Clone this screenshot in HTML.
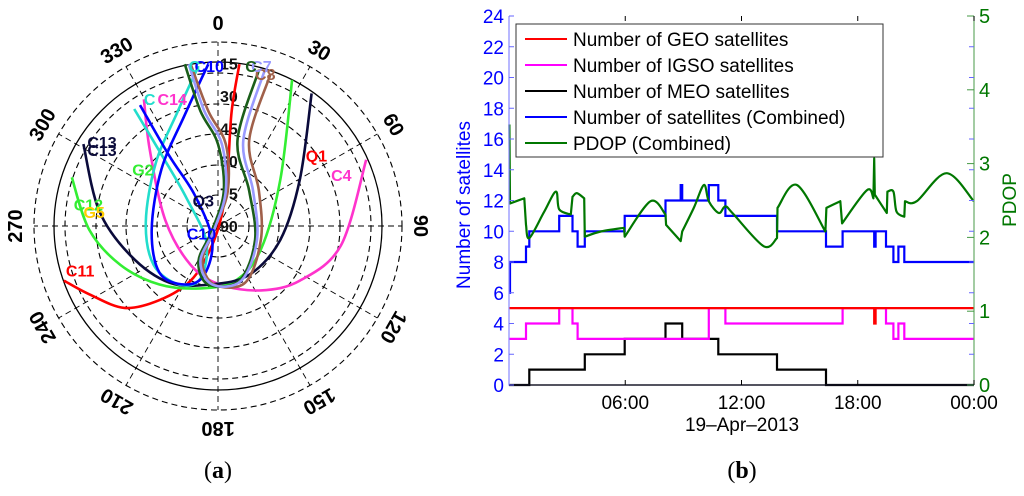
<!DOCTYPE html>
<html><head><meta charset="utf-8"><style>
body{margin:0;background:#fff;}
svg{display:block;font-family:"Liberation Sans",sans-serif;}
</style></head><body>
<svg id="fig" width="1024" height="496" viewBox="0 0 1024 496">
<g id="polar"></g>
<g id="ts"></g>
<text x="218" y="478" text-anchor="middle" font-family="Liberation Serif" font-size="24">(<tspan font-weight="bold">a</tspan>)</text>
<text x="742" y="478" text-anchor="middle" font-family="Liberation Serif" font-size="24">(<tspan font-weight="bold">b</tspan>)</text>
</svg>
<script>
// ---------- Polar skyplot data (sky-plane coords, 100 = horizon) ----------
const trackNames=["C11","C4","C12","C13","C6","C10","C5","C8","C7"];
const trackColors=["#ff0000","#ff33cc","#33ee33","#0a0a3a","#22ddcc","#0000ff","#1a5e1a","#a0604a","#9999ff"];
const trackC11=[[-79,-28],[-66,-35],[-48,-42],[-30,-38],[-14,-28],[-4,-12],[2,6],[5,29],[7,59],[11,83]];
const trackC4=[[-38,65],[-35,39],[-27,3],[-14,-20],[1,-30],[22,-33],[42,-28],[63,-10],[76,34]];
const trackC12=[[-75,25],[-66,-2],[-50,-20],[-30,-30],[-9,-32],[9,-28],[22,-12],[32,24],[38,75]];
const trackC13=[[-69,42],[-61,8],[-45,-15],[-25,-29],[-4,-30],[16,-25],[32,-7],[42,24],[48,68]];
const trackC6=[[-10,82],[-21,58],[-32,32],[-37,2],[-33,-20],[-20,-30],[-9,-27],[-6,-8],[-16,14],[-28,35],[-43,60]];
const trackC10=[[-5,83],[-17,57],[-29,29],[-34,-2],[-30,-24],[-17,-30],[-7,-25],[-3,-7],[-12,16],[-25,36],[-40,62]];
const trackC5=[[-17,83],[-9,59],[0,42],[3,18],[-3,-2],[-10,-18],[-5,-30],[11,-28],[19,-7],[16,18],[10,44],[21,80]];
const trackC8=[[-14,83],[-5,59],[4,42],[5,18],[-2,-2],[-8,-18],[-2,-30],[14,-29],[22,-7],[21,18],[16,44],[27,78]];
const trackC7=[[-15,83],[-7,59],[2,42],[4,18],[-2,-2],[-9,-18],[-3,-30],[12,-28],[20,-7],[18,18],[13,44],[24,80]];
const tracks=[trackC11,trackC4,trackC12,trackC13,trackC6,trackC10,trackC5,trackC8,trackC7];
const azLabels=["0","30","60","90","120","150","180","210","240","270","300","330"];
const elLabels=["15","30","45","60","75","90"];
const satLabels=[["C11",-78,-26,"#ff0000"],["C4",58,23,"#ff33cc"],["Q1",45,33,"#ff0000"],["G2",-44,26,"#33ee33"],["C12",-74,8,"#33ee33"],["G5",-69,4,"#ffcc00"],["C13",-67,40,"#0a0a3a"],["C13",-67,36,"#0a0a3a"],["Q3",-13,10,"#0a0a3a"],["C10",-16,-7,"#0000ff"],["C10",-12,79,"#0000ff"],["C",-15,79,"#22ddcc"],["C14",-31,62,"#ff33cc"],["C",-38,62,"#22ddcc"],["C8",19,75,"#a0604a"],["C7",17,79,"#9999ff"],["C",14,79,"#1a5e1a"]];

// ---------- Time-series data ----------
const geoT=[0,18.85,18.92];
const geoV=[5,4,5];
const igsoT=[0,0.88,2.59,3.28,3.54,10.31,11.17,17.22,19.46,19.84,20.1,20.4];
const igsoV=[3,4,5,4,3,5,4,5,4,3,4,3];
const meoT=[0,1.05,3.91,5.97,8.08,8.94,10.8,13.83,16.36];
const meoV=[0,1,2,3,4,3,2,1,0];
const combT=[0,0.05,0.88,1.05,2.59,3.28,3.54,3.91,5.97,8.08,8.86,8.94,10.31,10.8,11.17,13.83,16.36,17.22,18.85,18.92,19.46,19.84,20.1,20.4];
const combV=[6,8,9,10,11,10,9,10,11,12,13,12,13,12,11,10,9,10,9,10,9,8,9,8];
const pdopT=[0.02,0.05,0.79,0.88,1.05,1.82,2.42,2.59,3.19,3.28,3.5,3.88,3.91,4.74,5.94,5.97,7.31,8.08,8.11,8.86,8.94,9.54,10.06,10.31,10.83,11.17,11.6,13.15,13.83,13.86,14.86,16.33,16.38,17.1,17.19,18.47,18.81,18.85,18.88,19.5,19.53,19.84,20.0,20.4,20.44,21.04,22.58,23.99];
const pdopV=[3.53,2.46,2.53,2.17,1.99,2.35,2.62,2.38,2.31,2.55,2.6,2.53,2.01,2.08,2.13,2.01,2.49,2.31,2.17,1.95,2.08,2.4,2.71,2.49,2.33,2.42,2.31,1.88,1.99,2.4,2.71,2.08,2.4,2.49,2.19,2.64,2.53,3.07,2.58,2.33,2.62,2.62,2.35,2.28,2.49,2.49,2.87,2.49];
const leftTicks=[0,2,4,6,8,10,12,14,16,18,20,22,24];
const rightTicks=[0,1,2,3,4,5];
const xTicks=[6,12,18,24];
const xTickLabels=["06:00","12:00","18:00","00:00"];
const legendLabels=["Number of GEO satellites","Number of IGSO satellites","Number of MEO satellites","Number of satellites (Combined)","PDOP (Combined)"];
const legendColors=["#ff0000","#ff00ff","#000000","#0000ff","#007700"];

const NS="http://www.w3.org/2000/svg";
function mk(parent,tag,attrs){const e=document.createElementNS(NS,tag);for(const k in attrs)e.setAttribute(k,attrs[k]);parent.appendChild(e);return e;}
function smooth(pts){ // Catmull-Rom to cubic bezier
  let d='M'+pts[0][0].toFixed(1)+' '+pts[0][1].toFixed(1);
  for(let i=0;i<pts.length-1;i++){
    const p0=pts[Math.max(0,i-1)],p1=pts[i],p2=pts[i+1],p3=pts[Math.min(pts.length-1,i+2)];
    const c1=[p1[0]+(p2[0]-p0[0])/6,p1[1]+(p2[1]-p0[1])/6];
    const c2=[p2[0]-(p3[0]-p1[0])/6,p2[1]-(p3[1]-p1[1])/6];
    d+=` C${c1[0].toFixed(1)} ${c1[1].toFixed(1)} ${c2[0].toFixed(1)} ${c2[1].toFixed(1)} ${p2[0].toFixed(1)} ${p2[1].toFixed(1)}`;
  }
  return d;
}

// ---------- Polar ----------
const P=document.getElementById('polar');
const cx=218,cy=226,R=195;
function px(u){return cx+u*R/100;}
function py(v){return cy-v*R/100;}
[184,153,122,92,61,31].forEach(r=>{const c=mk(P,'circle',{cx:cx,cy:cy,r:r,fill:'none',stroke:'#000','stroke-width':1.1,'stroke-dasharray':'6,4'});

});
const sc=mk(P,'circle',{cx:cx,cy:cy,r:164,fill:'none',stroke:'#000','stroke-width':1.3});


azLabels.forEach((lab,i)=>{const a=i*30*Math.PI/180;
const l=mk(P,'line',{x1:cx,y1:cy,x2:cx+184*Math.sin(a),y2:cy-184*Math.cos(a),stroke:'#000','stroke-width':0.9,'stroke-dasharray':'6,4'});


const tx=cx+202*Math.sin(a),ty=cy-202*Math.cos(a);
const t=mk(P,'text',{x:tx,y:ty,'text-anchor':'middle','dominant-baseline':'central','font-size':20,'font-weight':'bold',transform:`rotate(${i*30} ${tx} ${ty})`});
t.textContent=lab;

});
elLabels.forEach((lab,i)=>{const r=R*(90-(i+1)*15)/90;
const t=mk(P,'text',{x:cx+2,y:cy-r+6,'font-size':16,'font-weight':'bold',fill:'#111'});
t.textContent=lab;

});
tracks.forEach((tr,i)=>{
const pa=mk(P,'path',{d:smooth(tr.map(p=>[px(p[0]),py(p[1])])),fill:'none',stroke:trackColors[i],'stroke-width':2.6,'stroke-linejoin':'round'});

});
satLabels.forEach(s=>{const t=mk(P,'text',{x:px(s[1]),y:py(s[2]),'font-size':16,'font-weight':'bold',fill:s[3]});
t.textContent=s[0];

});

// ---------- Time series ----------
const T=document.getElementById('ts');
const X0=509,X1=974,Y0=385,Y1=16;
function sx(h){return X0+(X1-X0)*h/24;}
function syL(v){return Y0-(Y0-Y1)*v/24;}
function syR(v){return Y0-(Y0-Y1)*v/5;}
function stepPath(ts,vs,end){let d='M'+sx(ts[0])+' '+syL(vs[0]);for(let i=1;i<ts.length;i++){d+=' H'+sx(ts[i]).toFixed(1)+' V'+syL(vs[i]).toFixed(1);}d+=' H'+sx(end);return d;}
[[meoT,meoV,'#000000','meo-line'],[igsoT,igsoV,'#ff00ff','igso-line'],[geoT,geoV,'#ff0000','geo-line'],[combT,combV,'#0000ff','combined-line']].forEach(s=>{
const p=mk(T,'path',{d:stepPath(s[0],s[1],24),fill:'none',stroke:s[2],'stroke-width':2.2});

});
// PDOP: smooth between jumps (segments shorter than 0.1h are jumps)
function pdopPath(){
  const pts=pdopT.map((h,i)=>[sx(h),syR(pdopV[i])]);
  const jump=i=>(pdopT[i+1]-pdopT[i])<0.1;
  let d='M'+pts[0][0].toFixed(1)+' '+pts[0][1].toFixed(1);
  const tan=i=>{const a=(i>0&&!jump(i-1))?pts[i-1]:pts[i];const b=(i<pts.length-1&&!jump(i))?pts[i+1]:pts[i];return[(b[0]-a[0])/6,(b[1]-a[1])/6];};
  for(let i=0;i<pts.length-1;i++){
    const p1=pts[i],p2=pts[i+1];
    if(jump(i)){d+=` L${p2[0].toFixed(1)} ${p2[1].toFixed(1)}`;continue;}
    const t1=tan(i),t2=tan(i+1);
    d+=` C${(p1[0]+t1[0]).toFixed(1)} ${(p1[1]+t1[1]).toFixed(1)} ${(p2[0]-t2[0]).toFixed(1)} ${(p2[1]-t2[1]).toFixed(1)} ${p2[0].toFixed(1)} ${p2[1].toFixed(1)}`;
  }
  return d;
}
const pd=mk(T,'path',{d:pdopPath(),fill:'none',stroke:'#007700','stroke-width':2.2,'stroke-linejoin':'round'});


// axes
const ax=mk(T,'path',{d:`M${X0} ${Y1} V${Y0} H${X1}`,fill:'none',stroke:'#8888ff','stroke-width':1.2});


const ax2=mk(T,'line',{x1:X1,y1:Y1,x2:X1,y2:Y0,stroke:'#66aa66','stroke-width':1.2});


const ax3=mk(T,'line',{x1:X0,y1:Y0,x2:X1,y2:Y0,stroke:'#000','stroke-width':1.2});


leftTicks.forEach(v=>{mk(T,'line',{x1:X0,y1:syL(v),x2:X0+5,y2:syL(v),stroke:'#6666ff'});mk(T,'line',{x1:X1,y1:syL(v),x2:X1-5,y2:syL(v),stroke:'#6666ff'});
const t=mk(T,'text',{x:504,y:syL(v)+7,'text-anchor':'end','font-size':19,fill:'#0000ff'});t.textContent=v;

});
rightTicks.forEach(v=>{mk(T,'line',{x1:X1,y1:syR(v),x2:X1-7,y2:syR(v),stroke:'#449944'});
const t=mk(T,'text',{x:979,y:syR(v)+7,'font-size':20,fill:'#007700'});t.textContent=v;

});
xTicks.forEach((h,i)=>{mk(T,'line',{x1:sx(h),y1:Y0,x2:sx(h),y2:Y0-5,stroke:'#000'});mk(T,'line',{x1:sx(h),y1:Y1,x2:sx(h),y2:Y1+5,stroke:'#000'});
const t=mk(T,'text',{x:sx(h),y:409,'text-anchor':'middle','font-size':19});t.textContent=xTickLabels[i];

});
const xl=mk(T,'text',{x:742,y:431,'text-anchor':'middle','font-size':19});xl.textContent='19\u2013Apr\u20132013';


const yl=mk(T,'text',{x:0,y:0,'text-anchor':'middle','font-size':19,fill:'#0000ff',transform:'translate(470 205) rotate(-90)'});yl.textContent='Number of satellites';


const yr=mk(T,'text',{x:0,y:0,'text-anchor':'middle','font-size':19,fill:'#007700',transform:'translate(1016 200) rotate(-90)'});yr.textContent='PDOP';


// legend
const lg=mk(T,'g',{});


mk(lg,'rect',{x:516,y:24,width:367,height:133,fill:'#fff',stroke:'#333','stroke-width':1});
legendLabels.forEach((lab,i)=>{const y=39+i*26;
mk(lg,'line',{x1:525,y1:y,x2:567,y2:y,stroke:legendColors[i],'stroke-width':2});
const t=mk(lg,'text',{x:573,y:y+7,'font-size':19});t.textContent=lab;

});
</script>
</body></html>
